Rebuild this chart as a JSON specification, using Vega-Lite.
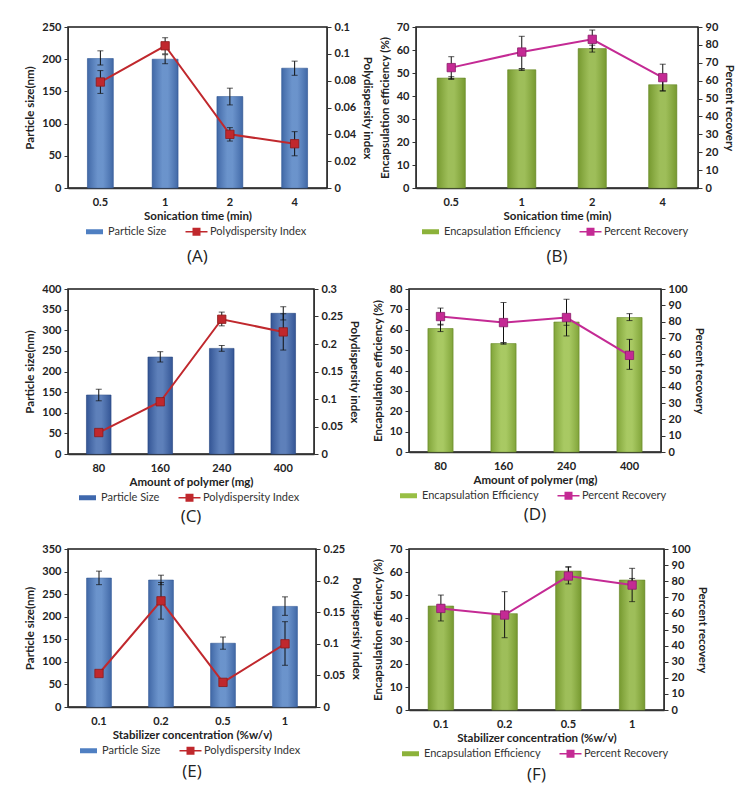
{
  "$schema": "https://vega.github.io/schema/vega-lite/v6.json",
  "background": "white",
  "padding": {"left": 24, "top": 20, "right": 5, "bottom": 5},
  "spacing": 16,
  "resolve": {"scale": {"color": "independent"}, "legend": {"color": "independent"}},
  "vconcat": [
    {
      "spacing": 4,
      "resolve": {"scale": {"color": "independent"}, "legend": {"color": "independent"}},
      "hconcat": [
        {
          "width": 259, "height": 161,
          "title": {"text": "(A)", "orient": "bottom", "offset": 12},
          "data": {"values": [
            {"x": "0.5", "bar": 201, "barLo": 191, "barHi": 213, "line": 0.079, "lineLo": 0.0705, "lineHi": 0.0875},
            {"x": "1", "bar": 200, "barLo": 193, "barHi": 207, "line": 0.106, "lineLo": 0.100, "lineHi": 0.112},
            {"x": "2", "bar": 142, "barLo": 129, "barHi": 155, "line": 0.040, "lineLo": 0.035, "lineHi": 0.045},
            {"x": "4", "bar": 186, "barLo": 175, "barHi": 197, "line": 0.033, "lineLo": 0.024, "lineHi": 0.042}
          ]},
          "encoding": {"x": {"field": "x", "type": "ordinal", "sort": null, "title": "Sonication time (min)", "scale": {"paddingInner": 0, "paddingOuter": 0}, "axis": {"labelAngle": 0}}},
          "layer": [
            {"layer": [
              {"mark": {"type": "bar", "width": {"band": 0.4}, "stroke": "#35609e", "strokeWidth": 0.6},
               "encoding": {"y": {"field": "bar", "type": "quantitative", "title": "Particle size(nm)", "scale": {"domain": [0, 250], "nice": false}, "axis": {"values": [0, 50, 100, 150, 200, 250], "labelOverlap": false}},
                "color": {"datum": "Particle Size", "scale": {"domain": ["Particle Size", "Polydispersity Index"], "range": ["#4f7fc2", "#c0282d"]},
                  "legend": {"title": null, "encode": {"symbols": {"update": {"shape": {"signal": "datum.value === 'Particle Size' ? 'M-1.7,-0.5H1.7V0.5H-1.7Z' : 'M-2.2,-0.15H2.2V0.15H-2.2Z M-0.8,-0.8H0.8V0.8H-0.8Z'"}}}}}}}},
              {"mark": {"type": "bar", "width": {"band": 0.4}, "color": {"gradient": "linear", "x1": 0, "x2": 1, "y1": 0, "y2": 0, "stops": [{"offset": 0, "color": "rgba(0,0,40,0.18)"}, {"offset": 0.4, "color": "rgba(255,255,255,0.16)"}, {"offset": 0.6, "color": "rgba(255,255,255,0.16)"}, {"offset": 1, "color": "rgba(0,0,40,0.18)"}]}},
               "encoding": {"y": {"field": "bar", "type": "quantitative", "title": "Particle size(nm)", "scale": {"domain": [0, 250], "nice": false}, "axis": {"values": [0, 50, 100, 150, 200, 250], "labelOverlap": false}}}},
              {"mark": {"type": "rule", "color": "#111", "strokeWidth": 1}, "encoding": {"y": {"field": "barLo", "type": "quantitative", "title": "Particle size(nm)", "scale": {"domain": [0, 250], "nice": false}, "axis": {"values": [0, 50, 100, 150, 200, 250], "labelOverlap": false}}, "y2": {"field": "barHi"}}},
              {"mark": {"type": "tick", "color": "#111", "size": 6, "thickness": 1}, "encoding": {"y": {"field": "barLo", "type": "quantitative", "title": "Particle size(nm)", "scale": {"domain": [0, 250], "nice": false}, "axis": {"values": [0, 50, 100, 150, 200, 250], "labelOverlap": false}}}},
              {"mark": {"type": "tick", "color": "#111", "size": 6, "thickness": 1}, "encoding": {"y": {"field": "barHi", "type": "quantitative", "title": "Particle size(nm)", "scale": {"domain": [0, 250], "nice": false}, "axis": {"values": [0, 50, 100, 150, 200, 250], "labelOverlap": false}}}}
            ]},
            {"layer": [
              {"mark": {"type": "line", "strokeWidth": 2},
               "encoding": {"y": {"field": "line", "type": "quantitative", "title": "Polydispersity index", "scale": {"domain": [0, 0.12], "nice": false}, "axis": {"orient": "right", "values": [0, 0.02, 0.04, 0.06, 0.08, 0.1, 0.12], "format": "~g", "labelOverlap": false}},
                "color": {"datum": "Polydispersity Index", "legend": {"title": null, "encode": {"symbols": {"update": {"shape": {"signal": "datum.value === 'Particle Size' ? 'M-1.7,-0.5H1.7V0.5H-1.7Z' : 'M-2.2,-0.15H2.2V0.15H-2.2Z M-0.8,-0.8H0.8V0.8H-0.8Z'"}}}}}}}},
              {"mark": {"type": "rule", "color": "#111", "strokeWidth": 1}, "encoding": {"y": {"field": "lineLo", "type": "quantitative", "title": "Polydispersity index", "scale": {"domain": [0, 0.12], "nice": false}, "axis": {"orient": "right", "values": [0, 0.02, 0.04, 0.06, 0.08, 0.1, 0.12], "format": "~g", "labelOverlap": false}}, "y2": {"field": "lineHi"}}},
              {"mark": {"type": "tick", "color": "#111", "size": 6, "thickness": 1}, "encoding": {"y": {"field": "lineLo", "type": "quantitative", "title": "Polydispersity index", "scale": {"domain": [0, 0.12], "nice": false}, "axis": {"orient": "right", "values": [0, 0.02, 0.04, 0.06, 0.08, 0.1, 0.12], "format": "~g", "labelOverlap": false}}}},
              {"mark": {"type": "tick", "color": "#111", "size": 6, "thickness": 1}, "encoding": {"y": {"field": "lineHi", "type": "quantitative", "title": "Polydispersity index", "scale": {"domain": [0, 0.12], "nice": false}, "axis": {"orient": "right", "values": [0, 0.02, 0.04, 0.06, 0.08, 0.1, 0.12], "format": "~g", "labelOverlap": false}}}},
              {"mark": {"type": "point", "shape": "square", "filled": true, "size": 70, "opacity": 1, "stroke": "#8a1a1a", "strokeWidth": 0.8},
               "encoding": {"y": {"field": "line", "type": "quantitative", "title": "Polydispersity index", "scale": {"domain": [0, 0.12], "nice": false}, "axis": {"orient": "right", "values": [0, 0.02, 0.04, 0.06, 0.08, 0.1, 0.12], "format": "~g", "labelOverlap": false}},
                "color": {"datum": "Polydispersity Index", "legend": {"title": null, "encode": {"symbols": {"update": {"shape": {"signal": "datum.value === 'Particle Size' ? 'M-1.7,-0.5H1.7V0.5H-1.7Z' : 'M-2.2,-0.15H2.2V0.15H-2.2Z M-0.8,-0.8H0.8V0.8H-0.8Z'"}}}}}}}}
            ]}
          ],
          "resolve": {"scale": {"y": "independent"}}
        },
        {
          "width": 282, "height": 161,
          "title": {"text": "(B)", "orient": "bottom", "offset": 12},
          "data": {"values": [
            {"x": "0.5", "bar": 47.8, "barLo": 47.2, "barHi": 48.4, "line": 67.3, "lineLo": 61.2, "lineHi": 73.4},
            {"x": "1", "bar": 51.4, "barLo": 51.1, "barHi": 51.7, "line": 76.0, "lineLo": 66.8, "lineHi": 84.8},
            {"x": "2", "bar": 60.6, "barLo": 59.1, "barHi": 62.1, "line": 83.1, "lineLo": 77.9, "lineHi": 88.3},
            {"x": "4", "bar": 44.9, "barLo": 42.2, "barHi": 47.4, "line": 61.7, "lineLo": 54.3, "lineHi": 69.2}
          ]},
          "encoding": {"x": {"field": "x", "type": "ordinal", "sort": null, "title": "Sonication time (min)", "scale": {"paddingInner": 0, "paddingOuter": 0}, "axis": {"labelAngle": 0}}},
          "layer": [
            {"layer": [
              {"mark": {"type": "bar", "width": {"band": 0.4}, "stroke": "#6d8f2a", "strokeWidth": 0.6},
               "encoding": {"y": {"field": "bar", "type": "quantitative", "title": "Encapsulation efficiency (%)", "scale": {"domain": [0, 70], "nice": false}, "axis": {"values": [0, 10, 20, 30, 40, 50, 60, 70], "labelOverlap": false}},
                "color": {"datum": "Encapsulation Efficiency", "scale": {"domain": ["Encapsulation Efficiency", "Percent Recovery"], "range": ["#8cb23a", "#c42a94"]},
                  "legend": {"title": null, "encode": {"symbols": {"update": {"shape": {"signal": "datum.value === 'Encapsulation Efficiency' ? 'M-1.7,-0.5H1.7V0.5H-1.7Z' : 'M-2.2,-0.15H2.2V0.15H-2.2Z M-0.8,-0.8H0.8V0.8H-0.8Z'"}}}}}}}},
              {"mark": {"type": "bar", "width": {"band": 0.4}, "color": {"gradient": "linear", "x1": 0, "x2": 1, "y1": 0, "y2": 0, "stops": [{"offset": 0, "color": "rgba(20,40,0,0.18)"}, {"offset": 0.4, "color": "rgba(255,255,255,0.16)"}, {"offset": 0.6, "color": "rgba(255,255,255,0.16)"}, {"offset": 1, "color": "rgba(20,40,0,0.18)"}]}},
               "encoding": {"y": {"field": "bar", "type": "quantitative", "title": "Encapsulation efficiency (%)", "scale": {"domain": [0, 70], "nice": false}, "axis": {"values": [0, 10, 20, 30, 40, 50, 60, 70], "labelOverlap": false}}}},
              {"mark": {"type": "rule", "color": "#111", "strokeWidth": 1}, "encoding": {"y": {"field": "barLo", "type": "quantitative", "title": "Encapsulation efficiency (%)", "scale": {"domain": [0, 70], "nice": false}, "axis": {"values": [0, 10, 20, 30, 40, 50, 60, 70], "labelOverlap": false}}, "y2": {"field": "barHi"}}},
              {"mark": {"type": "tick", "color": "#111", "size": 6, "thickness": 1}, "encoding": {"y": {"field": "barLo", "type": "quantitative", "title": "Encapsulation efficiency (%)", "scale": {"domain": [0, 70], "nice": false}, "axis": {"values": [0, 10, 20, 30, 40, 50, 60, 70], "labelOverlap": false}}}},
              {"mark": {"type": "tick", "color": "#111", "size": 6, "thickness": 1}, "encoding": {"y": {"field": "barHi", "type": "quantitative", "title": "Encapsulation efficiency (%)", "scale": {"domain": [0, 70], "nice": false}, "axis": {"values": [0, 10, 20, 30, 40, 50, 60, 70], "labelOverlap": false}}}}
            ]},
            {"layer": [
              {"mark": {"type": "line", "strokeWidth": 2},
               "encoding": {"y": {"field": "line", "type": "quantitative", "title": "Percent recovery", "scale": {"domain": [0, 90], "nice": false}, "axis": {"orient": "right", "values": [0, 10, 20, 30, 40, 50, 60, 70, 80, 90], "labelOverlap": false}},
                "color": {"datum": "Percent Recovery", "legend": {"title": null, "encode": {"symbols": {"update": {"shape": {"signal": "datum.value === 'Encapsulation Efficiency' ? 'M-1.7,-0.5H1.7V0.5H-1.7Z' : 'M-2.2,-0.15H2.2V0.15H-2.2Z M-0.8,-0.8H0.8V0.8H-0.8Z'"}}}}}}}},
              {"mark": {"type": "rule", "color": "#111", "strokeWidth": 1}, "encoding": {"y": {"field": "lineLo", "type": "quantitative", "title": "Percent recovery", "scale": {"domain": [0, 90], "nice": false}, "axis": {"orient": "right", "values": [0, 10, 20, 30, 40, 50, 60, 70, 80, 90], "labelOverlap": false}}, "y2": {"field": "lineHi"}}},
              {"mark": {"type": "tick", "color": "#111", "size": 6, "thickness": 1}, "encoding": {"y": {"field": "lineLo", "type": "quantitative", "title": "Percent recovery", "scale": {"domain": [0, 90], "nice": false}, "axis": {"orient": "right", "values": [0, 10, 20, 30, 40, 50, 60, 70, 80, 90], "labelOverlap": false}}}},
              {"mark": {"type": "tick", "color": "#111", "size": 6, "thickness": 1}, "encoding": {"y": {"field": "lineHi", "type": "quantitative", "title": "Percent recovery", "scale": {"domain": [0, 90], "nice": false}, "axis": {"orient": "right", "values": [0, 10, 20, 30, 40, 50, 60, 70, 80, 90], "labelOverlap": false}}}},
              {"mark": {"type": "point", "shape": "square", "filled": true, "size": 70, "opacity": 1, "stroke": "#8a1d6a", "strokeWidth": 0.8},
               "encoding": {"y": {"field": "line", "type": "quantitative", "title": "Percent recovery", "scale": {"domain": [0, 90], "nice": false}, "axis": {"orient": "right", "values": [0, 10, 20, 30, 40, 50, 60, 70, 80, 90], "labelOverlap": false}},
                "color": {"datum": "Percent Recovery", "legend": {"title": null, "encode": {"symbols": {"update": {"shape": {"signal": "datum.value === 'Encapsulation Efficiency' ? 'M-1.7,-0.5H1.7V0.5H-1.7Z' : 'M-2.2,-0.15H2.2V0.15H-2.2Z M-0.8,-0.8H0.8V0.8H-0.8Z'"}}}}}}}}
            ]}
          ],
          "resolve": {"scale": {"y": "independent"}}
        }
      ]
    },
    {
      "spacing": 10,
      "resolve": {"scale": {"color": "independent"}, "legend": {"color": "independent"}},
      "hconcat": [
        {
          "width": 246, "height": 165,
          "title": {"text": "(C)", "orient": "bottom", "offset": 6},
          "data": {"values": [
            {"x": "80", "bar": 143, "barLo": 129, "barHi": 157, "line": 0.039, "lineLo": 0.036, "lineHi": 0.042},
            {"x": "160", "bar": 235, "barLo": 223, "barHi": 248, "line": 0.095, "lineLo": 0.092, "lineHi": 0.098},
            {"x": "240", "bar": 256, "barLo": 249, "barHi": 263, "line": 0.245, "lineLo": 0.233, "lineHi": 0.258},
            {"x": "400", "bar": 341, "barLo": 325, "barHi": 357, "line": 0.222, "lineLo": 0.189, "lineHi": 0.255}
          ]},
          "encoding": {"x": {"field": "x", "type": "ordinal", "sort": null, "title": "Amount of polymer (mg)", "scale": {"paddingInner": 0, "paddingOuter": 0}, "axis": {"labelAngle": 0}}},
          "layer": [
            {"layer": [
              {"mark": {"type": "bar", "width": {"band": 0.4}, "stroke": "#2d4f8a", "strokeWidth": 0.6},
               "encoding": {"y": {"field": "bar", "type": "quantitative", "title": "Particle size(nm)", "scale": {"domain": [0, 400], "nice": false}, "axis": {"values": [0, 50, 100, 150, 200, 250, 300, 350, 400], "labelOverlap": false}},
                "color": {"datum": "Particle Size", "scale": {"domain": ["Particle Size", "Polydispersity Index"], "range": ["#3f68ad", "#c0282d"]},
                  "legend": {"title": null, "encode": {"symbols": {"update": {"shape": {"signal": "datum.value === 'Particle Size' ? 'M-1.7,-0.5H1.7V0.5H-1.7Z' : 'M-2.2,-0.15H2.2V0.15H-2.2Z M-0.8,-0.8H0.8V0.8H-0.8Z'"}}}}}}}},
              {"mark": {"type": "bar", "width": {"band": 0.4}, "color": {"gradient": "linear", "x1": 0, "x2": 1, "y1": 0, "y2": 0, "stops": [{"offset": 0, "color": "rgba(0,0,40,0.18)"}, {"offset": 0.4, "color": "rgba(255,255,255,0.16)"}, {"offset": 0.6, "color": "rgba(255,255,255,0.16)"}, {"offset": 1, "color": "rgba(0,0,40,0.18)"}]}},
               "encoding": {"y": {"field": "bar", "type": "quantitative", "title": "Particle size(nm)", "scale": {"domain": [0, 400], "nice": false}, "axis": {"values": [0, 50, 100, 150, 200, 250, 300, 350, 400], "labelOverlap": false}}}},
              {"mark": {"type": "rule", "color": "#111", "strokeWidth": 1}, "encoding": {"y": {"field": "barLo", "type": "quantitative", "title": "Particle size(nm)", "scale": {"domain": [0, 400], "nice": false}, "axis": {"values": [0, 50, 100, 150, 200, 250, 300, 350, 400], "labelOverlap": false}}, "y2": {"field": "barHi"}}},
              {"mark": {"type": "tick", "color": "#111", "size": 6, "thickness": 1}, "encoding": {"y": {"field": "barLo", "type": "quantitative", "title": "Particle size(nm)", "scale": {"domain": [0, 400], "nice": false}, "axis": {"values": [0, 50, 100, 150, 200, 250, 300, 350, 400], "labelOverlap": false}}}},
              {"mark": {"type": "tick", "color": "#111", "size": 6, "thickness": 1}, "encoding": {"y": {"field": "barHi", "type": "quantitative", "title": "Particle size(nm)", "scale": {"domain": [0, 400], "nice": false}, "axis": {"values": [0, 50, 100, 150, 200, 250, 300, 350, 400], "labelOverlap": false}}}}
            ]},
            {"layer": [
              {"mark": {"type": "line", "strokeWidth": 2},
               "encoding": {"y": {"field": "line", "type": "quantitative", "title": "Polydispersity index", "scale": {"domain": [0, 0.3], "nice": false}, "axis": {"orient": "right", "values": [0, 0.05, 0.1, 0.15, 0.2, 0.25, 0.3], "format": "~g", "labelOverlap": false}},
                "color": {"datum": "Polydispersity Index", "legend": {"title": null, "encode": {"symbols": {"update": {"shape": {"signal": "datum.value === 'Particle Size' ? 'M-1.7,-0.5H1.7V0.5H-1.7Z' : 'M-2.2,-0.15H2.2V0.15H-2.2Z M-0.8,-0.8H0.8V0.8H-0.8Z'"}}}}}}}},
              {"mark": {"type": "rule", "color": "#111", "strokeWidth": 1}, "encoding": {"y": {"field": "lineLo", "type": "quantitative", "title": "Polydispersity index", "scale": {"domain": [0, 0.3], "nice": false}, "axis": {"orient": "right", "values": [0, 0.05, 0.1, 0.15, 0.2, 0.25, 0.3], "format": "~g", "labelOverlap": false}}, "y2": {"field": "lineHi"}}},
              {"mark": {"type": "tick", "color": "#111", "size": 6, "thickness": 1}, "encoding": {"y": {"field": "lineLo", "type": "quantitative", "title": "Polydispersity index", "scale": {"domain": [0, 0.3], "nice": false}, "axis": {"orient": "right", "values": [0, 0.05, 0.1, 0.15, 0.2, 0.25, 0.3], "format": "~g", "labelOverlap": false}}}},
              {"mark": {"type": "tick", "color": "#111", "size": 6, "thickness": 1}, "encoding": {"y": {"field": "lineHi", "type": "quantitative", "title": "Polydispersity index", "scale": {"domain": [0, 0.3], "nice": false}, "axis": {"orient": "right", "values": [0, 0.05, 0.1, 0.15, 0.2, 0.25, 0.3], "format": "~g", "labelOverlap": false}}}},
              {"mark": {"type": "point", "shape": "square", "filled": true, "size": 70, "opacity": 1, "stroke": "#8a1a1a", "strokeWidth": 0.8},
               "encoding": {"y": {"field": "line", "type": "quantitative", "title": "Polydispersity index", "scale": {"domain": [0, 0.3], "nice": false}, "axis": {"orient": "right", "values": [0, 0.05, 0.1, 0.15, 0.2, 0.25, 0.3], "format": "~g", "labelOverlap": false}},
                "color": {"datum": "Polydispersity Index", "legend": {"title": null, "encode": {"symbols": {"update": {"shape": {"signal": "datum.value === 'Particle Size' ? 'M-1.7,-0.5H1.7V0.5H-1.7Z' : 'M-2.2,-0.15H2.2V0.15H-2.2Z M-0.8,-0.8H0.8V0.8H-0.8Z'"}}}}}}}}
            ]}
          ],
          "resolve": {"scale": {"y": "independent"}}
        },
        {
          "width": 252, "height": 163,
          "title": {"text": "(D)", "orient": "bottom", "offset": 6},
          "data": {"values": [
            {"x": "80", "bar": 60.6, "barLo": 59.1, "barHi": 62.7, "line": 83.1, "lineLo": 77.9, "lineHi": 88.3},
            {"x": "160", "bar": 53.2, "barLo": 52.9, "barHi": 53.5, "line": 79.4, "lineLo": 67.1, "lineHi": 91.7},
            {"x": "240", "bar": 63.8, "barLo": 62.2, "barHi": 65.4, "line": 82.5, "lineLo": 71.2, "lineHi": 93.7},
            {"x": "400", "bar": 66.0, "barLo": 64.5, "barHi": 67.9, "line": 59.3, "lineLo": 50.7, "lineHi": 69.1}
          ]},
          "encoding": {"x": {"field": "x", "type": "ordinal", "sort": null, "title": "Amount of polymer (mg)", "scale": {"paddingInner": 0, "paddingOuter": 0}, "axis": {"labelAngle": 0}}},
          "layer": [
            {"layer": [
              {"mark": {"type": "bar", "width": {"band": 0.4}, "stroke": "#6d8f2a", "strokeWidth": 0.6},
               "encoding": {"y": {"field": "bar", "type": "quantitative", "title": "Encapsulation efficiency (%)", "scale": {"domain": [0, 80], "nice": false}, "axis": {"values": [0, 10, 20, 30, 40, 50, 60, 70, 80], "labelOverlap": false}},
                "color": {"datum": "Encapsulation Efficiency", "scale": {"domain": ["Encapsulation Efficiency", "Percent Recovery"], "range": ["#98bf45", "#c42a94"]},
                  "legend": {"title": null, "encode": {"symbols": {"update": {"shape": {"signal": "datum.value === 'Encapsulation Efficiency' ? 'M-1.7,-0.5H1.7V0.5H-1.7Z' : 'M-2.2,-0.15H2.2V0.15H-2.2Z M-0.8,-0.8H0.8V0.8H-0.8Z'"}}}}}}}},
              {"mark": {"type": "bar", "width": {"band": 0.4}, "color": {"gradient": "linear", "x1": 0, "x2": 1, "y1": 0, "y2": 0, "stops": [{"offset": 0, "color": "rgba(20,40,0,0.18)"}, {"offset": 0.4, "color": "rgba(255,255,255,0.16)"}, {"offset": 0.6, "color": "rgba(255,255,255,0.16)"}, {"offset": 1, "color": "rgba(20,40,0,0.18)"}]}},
               "encoding": {"y": {"field": "bar", "type": "quantitative", "title": "Encapsulation efficiency (%)", "scale": {"domain": [0, 80], "nice": false}, "axis": {"values": [0, 10, 20, 30, 40, 50, 60, 70, 80], "labelOverlap": false}}}},
              {"mark": {"type": "rule", "color": "#111", "strokeWidth": 1}, "encoding": {"y": {"field": "barLo", "type": "quantitative", "title": "Encapsulation efficiency (%)", "scale": {"domain": [0, 80], "nice": false}, "axis": {"values": [0, 10, 20, 30, 40, 50, 60, 70, 80], "labelOverlap": false}}, "y2": {"field": "barHi"}}},
              {"mark": {"type": "tick", "color": "#111", "size": 6, "thickness": 1}, "encoding": {"y": {"field": "barLo", "type": "quantitative", "title": "Encapsulation efficiency (%)", "scale": {"domain": [0, 80], "nice": false}, "axis": {"values": [0, 10, 20, 30, 40, 50, 60, 70, 80], "labelOverlap": false}}}},
              {"mark": {"type": "tick", "color": "#111", "size": 6, "thickness": 1}, "encoding": {"y": {"field": "barHi", "type": "quantitative", "title": "Encapsulation efficiency (%)", "scale": {"domain": [0, 80], "nice": false}, "axis": {"values": [0, 10, 20, 30, 40, 50, 60, 70, 80], "labelOverlap": false}}}}
            ]},
            {"layer": [
              {"mark": {"type": "line", "strokeWidth": 2},
               "encoding": {"y": {"field": "line", "type": "quantitative", "title": "Percent recovery", "scale": {"domain": [0, 100], "nice": false}, "axis": {"orient": "right", "values": [0, 10, 20, 30, 40, 50, 60, 70, 80, 90, 100], "labelOverlap": false}},
                "color": {"datum": "Percent Recovery", "legend": {"title": null, "encode": {"symbols": {"update": {"shape": {"signal": "datum.value === 'Encapsulation Efficiency' ? 'M-1.7,-0.5H1.7V0.5H-1.7Z' : 'M-2.2,-0.15H2.2V0.15H-2.2Z M-0.8,-0.8H0.8V0.8H-0.8Z'"}}}}}}}},
              {"mark": {"type": "rule", "color": "#111", "strokeWidth": 1}, "encoding": {"y": {"field": "lineLo", "type": "quantitative", "title": "Percent recovery", "scale": {"domain": [0, 100], "nice": false}, "axis": {"orient": "right", "values": [0, 10, 20, 30, 40, 50, 60, 70, 80, 90, 100], "labelOverlap": false}}, "y2": {"field": "lineHi"}}},
              {"mark": {"type": "tick", "color": "#111", "size": 6, "thickness": 1}, "encoding": {"y": {"field": "lineLo", "type": "quantitative", "title": "Percent recovery", "scale": {"domain": [0, 100], "nice": false}, "axis": {"orient": "right", "values": [0, 10, 20, 30, 40, 50, 60, 70, 80, 90, 100], "labelOverlap": false}}}},
              {"mark": {"type": "tick", "color": "#111", "size": 6, "thickness": 1}, "encoding": {"y": {"field": "lineHi", "type": "quantitative", "title": "Percent recovery", "scale": {"domain": [0, 100], "nice": false}, "axis": {"orient": "right", "values": [0, 10, 20, 30, 40, 50, 60, 70, 80, 90, 100], "labelOverlap": false}}}},
              {"mark": {"type": "point", "shape": "square", "filled": true, "size": 70, "opacity": 1, "stroke": "#8a1d6a", "strokeWidth": 0.8},
               "encoding": {"y": {"field": "line", "type": "quantitative", "title": "Percent recovery", "scale": {"domain": [0, 100], "nice": false}, "axis": {"orient": "right", "values": [0, 10, 20, 30, 40, 50, 60, 70, 80, 90, 100], "labelOverlap": false}},
                "color": {"datum": "Percent Recovery", "legend": {"title": null, "encode": {"symbols": {"update": {"shape": {"signal": "datum.value === 'Encapsulation Efficiency' ? 'M-1.7,-0.5H1.7V0.5H-1.7Z' : 'M-2.2,-0.15H2.2V0.15H-2.2Z M-0.8,-0.8H0.8V0.8H-0.8Z'"}}}}}}}}
            ]}
          ],
          "resolve": {"scale": {"y": "independent"}}
        }
      ]
    },
    {
      "spacing": 8,
      "resolve": {"scale": {"color": "independent"}, "legend": {"color": "independent"}},
      "hconcat": [
        {
          "width": 248, "height": 158,
          "title": {"text": "(E)", "orient": "bottom"},
          "data": {"values": [
            {"x": "0.1", "bar": 285.6, "barLo": 271, "barHi": 301, "line": 0.053, "lineLo": 0.050, "lineHi": 0.056},
            {"x": "0.2", "bar": 281.2, "barLo": 271, "barHi": 292, "line": 0.168, "lineLo": 0.139, "lineHi": 0.197},
            {"x": "0.5", "bar": 141.2, "barLo": 128, "barHi": 155, "line": 0.039, "lineLo": 0.037, "lineHi": 0.041},
            {"x": "1", "bar": 222.8, "barLo": 203, "barHi": 244, "line": 0.100, "lineLo": 0.066, "lineHi": 0.135}
          ]},
          "encoding": {"x": {"field": "x", "type": "ordinal", "sort": null, "title": "Stabilizer concentration (%w/v)", "scale": {"paddingInner": 0, "paddingOuter": 0}, "axis": {"labelAngle": 0}}},
          "layer": [
            {"layer": [
              {"mark": {"type": "bar", "width": {"band": 0.4}, "stroke": "#35609e", "strokeWidth": 0.6},
               "encoding": {"y": {"field": "bar", "type": "quantitative", "title": "Particle size(nm)", "scale": {"domain": [0, 350], "nice": false}, "axis": {"values": [0, 50, 100, 150, 200, 250, 300, 350], "labelOverlap": false}},
                "color": {"datum": "Particle Size", "scale": {"domain": ["Particle Size", "Polydispersity Index"], "range": ["#4f7fc2", "#c0282d"]},
                  "legend": {"title": null, "encode": {"symbols": {"update": {"shape": {"signal": "datum.value === 'Particle Size' ? 'M-1.7,-0.5H1.7V0.5H-1.7Z' : 'M-2.2,-0.15H2.2V0.15H-2.2Z M-0.8,-0.8H0.8V0.8H-0.8Z'"}}}}}}}},
              {"mark": {"type": "bar", "width": {"band": 0.4}, "color": {"gradient": "linear", "x1": 0, "x2": 1, "y1": 0, "y2": 0, "stops": [{"offset": 0, "color": "rgba(0,0,40,0.18)"}, {"offset": 0.4, "color": "rgba(255,255,255,0.16)"}, {"offset": 0.6, "color": "rgba(255,255,255,0.16)"}, {"offset": 1, "color": "rgba(0,0,40,0.18)"}]}},
               "encoding": {"y": {"field": "bar", "type": "quantitative", "title": "Particle size(nm)", "scale": {"domain": [0, 350], "nice": false}, "axis": {"values": [0, 50, 100, 150, 200, 250, 300, 350], "labelOverlap": false}}}},
              {"mark": {"type": "rule", "color": "#111", "strokeWidth": 1}, "encoding": {"y": {"field": "barLo", "type": "quantitative", "title": "Particle size(nm)", "scale": {"domain": [0, 350], "nice": false}, "axis": {"values": [0, 50, 100, 150, 200, 250, 300, 350], "labelOverlap": false}}, "y2": {"field": "barHi"}}},
              {"mark": {"type": "tick", "color": "#111", "size": 6, "thickness": 1}, "encoding": {"y": {"field": "barLo", "type": "quantitative", "title": "Particle size(nm)", "scale": {"domain": [0, 350], "nice": false}, "axis": {"values": [0, 50, 100, 150, 200, 250, 300, 350], "labelOverlap": false}}}},
              {"mark": {"type": "tick", "color": "#111", "size": 6, "thickness": 1}, "encoding": {"y": {"field": "barHi", "type": "quantitative", "title": "Particle size(nm)", "scale": {"domain": [0, 350], "nice": false}, "axis": {"values": [0, 50, 100, 150, 200, 250, 300, 350], "labelOverlap": false}}}}
            ]},
            {"layer": [
              {"mark": {"type": "line", "strokeWidth": 2},
               "encoding": {"y": {"field": "line", "type": "quantitative", "title": "Polydispersity index", "scale": {"domain": [0, 0.25], "nice": false}, "axis": {"orient": "right", "values": [0, 0.05, 0.1, 0.15, 0.2, 0.25], "format": "~g", "labelOverlap": false}},
                "color": {"datum": "Polydispersity Index", "legend": {"title": null, "encode": {"symbols": {"update": {"shape": {"signal": "datum.value === 'Particle Size' ? 'M-1.7,-0.5H1.7V0.5H-1.7Z' : 'M-2.2,-0.15H2.2V0.15H-2.2Z M-0.8,-0.8H0.8V0.8H-0.8Z'"}}}}}}}},
              {"mark": {"type": "rule", "color": "#111", "strokeWidth": 1}, "encoding": {"y": {"field": "lineLo", "type": "quantitative", "title": "Polydispersity index", "scale": {"domain": [0, 0.25], "nice": false}, "axis": {"orient": "right", "values": [0, 0.05, 0.1, 0.15, 0.2, 0.25], "format": "~g", "labelOverlap": false}}, "y2": {"field": "lineHi"}}},
              {"mark": {"type": "tick", "color": "#111", "size": 6, "thickness": 1}, "encoding": {"y": {"field": "lineLo", "type": "quantitative", "title": "Polydispersity index", "scale": {"domain": [0, 0.25], "nice": false}, "axis": {"orient": "right", "values": [0, 0.05, 0.1, 0.15, 0.2, 0.25], "format": "~g", "labelOverlap": false}}}},
              {"mark": {"type": "tick", "color": "#111", "size": 6, "thickness": 1}, "encoding": {"y": {"field": "lineHi", "type": "quantitative", "title": "Polydispersity index", "scale": {"domain": [0, 0.25], "nice": false}, "axis": {"orient": "right", "values": [0, 0.05, 0.1, 0.15, 0.2, 0.25], "format": "~g", "labelOverlap": false}}}},
              {"mark": {"type": "point", "shape": "square", "filled": true, "size": 70, "opacity": 1, "stroke": "#8a1a1a", "strokeWidth": 0.8},
               "encoding": {"y": {"field": "line", "type": "quantitative", "title": "Polydispersity index", "scale": {"domain": [0, 0.25], "nice": false}, "axis": {"orient": "right", "values": [0, 0.05, 0.1, 0.15, 0.2, 0.25], "format": "~g", "labelOverlap": false}},
                "color": {"datum": "Polydispersity Index", "legend": {"title": null, "encode": {"symbols": {"update": {"shape": {"signal": "datum.value === 'Particle Size' ? 'M-1.7,-0.5H1.7V0.5H-1.7Z' : 'M-2.2,-0.15H2.2V0.15H-2.2Z M-0.8,-0.8H0.8V0.8H-0.8Z'"}}}}}}}}
            ]}
          ],
          "resolve": {"scale": {"y": "independent"}}
        },
        {
          "width": 255, "height": 161,
          "title": {"text": "(F)", "orient": "bottom"},
          "data": {"values": [
            {"x": "0.1", "bar": 45.2, "barLo": 44.7, "barHi": 45.7, "line": 63.1, "lineLo": 55.3, "lineHi": 71.4},
            {"x": "0.2", "bar": 41.9, "barLo": 41.5, "barHi": 42.3, "line": 59.0, "lineLo": 44.9, "lineHi": 73.5},
            {"x": "0.5", "bar": 60.4, "barLo": 58.7, "barHi": 62.1, "line": 83.2, "lineLo": 78.3, "lineHi": 89.0},
            {"x": "1", "bar": 56.5, "barLo": 55.8, "barHi": 57.2, "line": 77.6, "lineLo": 67.3, "lineHi": 88.0}
          ]},
          "encoding": {"x": {"field": "x", "type": "ordinal", "sort": null, "title": "Stabilizer concentration (%w/v)", "scale": {"paddingInner": 0, "paddingOuter": 0}, "axis": {"labelAngle": 0}}},
          "layer": [
            {"layer": [
              {"mark": {"type": "bar", "width": {"band": 0.4}, "stroke": "#6d8f2a", "strokeWidth": 0.6},
               "encoding": {"y": {"field": "bar", "type": "quantitative", "title": "Encapsulation efficiency (%)", "scale": {"domain": [0, 70], "nice": false}, "axis": {"values": [0, 10, 20, 30, 40, 50, 60, 70], "labelOverlap": false}},
                "color": {"datum": "Encapsulation Efficiency", "scale": {"domain": ["Encapsulation Efficiency", "Percent Recovery"], "range": ["#8cb23a", "#c42a94"]},
                  "legend": {"title": null, "encode": {"symbols": {"update": {"shape": {"signal": "datum.value === 'Encapsulation Efficiency' ? 'M-1.7,-0.5H1.7V0.5H-1.7Z' : 'M-2.2,-0.15H2.2V0.15H-2.2Z M-0.8,-0.8H0.8V0.8H-0.8Z'"}}}}}}}},
              {"mark": {"type": "bar", "width": {"band": 0.4}, "color": {"gradient": "linear", "x1": 0, "x2": 1, "y1": 0, "y2": 0, "stops": [{"offset": 0, "color": "rgba(20,40,0,0.18)"}, {"offset": 0.4, "color": "rgba(255,255,255,0.16)"}, {"offset": 0.6, "color": "rgba(255,255,255,0.16)"}, {"offset": 1, "color": "rgba(20,40,0,0.18)"}]}},
               "encoding": {"y": {"field": "bar", "type": "quantitative", "title": "Encapsulation efficiency (%)", "scale": {"domain": [0, 70], "nice": false}, "axis": {"values": [0, 10, 20, 30, 40, 50, 60, 70], "labelOverlap": false}}}},
              {"mark": {"type": "rule", "color": "#111", "strokeWidth": 1}, "encoding": {"y": {"field": "barLo", "type": "quantitative", "title": "Encapsulation efficiency (%)", "scale": {"domain": [0, 70], "nice": false}, "axis": {"values": [0, 10, 20, 30, 40, 50, 60, 70], "labelOverlap": false}}, "y2": {"field": "barHi"}}},
              {"mark": {"type": "tick", "color": "#111", "size": 6, "thickness": 1}, "encoding": {"y": {"field": "barLo", "type": "quantitative", "title": "Encapsulation efficiency (%)", "scale": {"domain": [0, 70], "nice": false}, "axis": {"values": [0, 10, 20, 30, 40, 50, 60, 70], "labelOverlap": false}}}},
              {"mark": {"type": "tick", "color": "#111", "size": 6, "thickness": 1}, "encoding": {"y": {"field": "barHi", "type": "quantitative", "title": "Encapsulation efficiency (%)", "scale": {"domain": [0, 70], "nice": false}, "axis": {"values": [0, 10, 20, 30, 40, 50, 60, 70], "labelOverlap": false}}}}
            ]},
            {"layer": [
              {"mark": {"type": "line", "strokeWidth": 2},
               "encoding": {"y": {"field": "line", "type": "quantitative", "title": "Percent recovery", "scale": {"domain": [0, 100], "nice": false}, "axis": {"orient": "right", "values": [0, 10, 20, 30, 40, 50, 60, 70, 80, 90, 100], "labelOverlap": false}},
                "color": {"datum": "Percent Recovery", "legend": {"title": null, "encode": {"symbols": {"update": {"shape": {"signal": "datum.value === 'Encapsulation Efficiency' ? 'M-1.7,-0.5H1.7V0.5H-1.7Z' : 'M-2.2,-0.15H2.2V0.15H-2.2Z M-0.8,-0.8H0.8V0.8H-0.8Z'"}}}}}}}},
              {"mark": {"type": "rule", "color": "#111", "strokeWidth": 1}, "encoding": {"y": {"field": "lineLo", "type": "quantitative", "title": "Percent recovery", "scale": {"domain": [0, 100], "nice": false}, "axis": {"orient": "right", "values": [0, 10, 20, 30, 40, 50, 60, 70, 80, 90, 100], "labelOverlap": false}}, "y2": {"field": "lineHi"}}},
              {"mark": {"type": "tick", "color": "#111", "size": 6, "thickness": 1}, "encoding": {"y": {"field": "lineLo", "type": "quantitative", "title": "Percent recovery", "scale": {"domain": [0, 100], "nice": false}, "axis": {"orient": "right", "values": [0, 10, 20, 30, 40, 50, 60, 70, 80, 90, 100], "labelOverlap": false}}}},
              {"mark": {"type": "tick", "color": "#111", "size": 6, "thickness": 1}, "encoding": {"y": {"field": "lineHi", "type": "quantitative", "title": "Percent recovery", "scale": {"domain": [0, 100], "nice": false}, "axis": {"orient": "right", "values": [0, 10, 20, 30, 40, 50, 60, 70, 80, 90, 100], "labelOverlap": false}}}},
              {"mark": {"type": "point", "shape": "square", "filled": true, "size": 70, "opacity": 1, "stroke": "#8a1d6a", "strokeWidth": 0.8},
               "encoding": {"y": {"field": "line", "type": "quantitative", "title": "Percent recovery", "scale": {"domain": [0, 100], "nice": false}, "axis": {"orient": "right", "values": [0, 10, 20, 30, 40, 50, 60, 70, 80, 90, 100], "labelOverlap": false}},
                "color": {"datum": "Percent Recovery", "legend": {"title": null, "encode": {"symbols": {"update": {"shape": {"signal": "datum.value === 'Encapsulation Efficiency' ? 'M-1.7,-0.5H1.7V0.5H-1.7Z' : 'M-2.2,-0.15H2.2V0.15H-2.2Z M-0.8,-0.8H0.8V0.8H-0.8Z'"}}}}}}}}
            ]}
          ],
          "resolve": {"scale": {"y": "independent"}}
        }
      ]
    }
  ],
  "config": {
    "view": {"stroke": "#1a1a1a", "strokeWidth": 1.5},
    "font": "Lato",
    "axis": {"grid": false, "labelOverlap": false, "labelFont": "Lato", "labelFontWeight": "bold", "labelFontSize": 11, "labelColor": "#222", "titleFont": "Lato", "titleFontWeight": "bold", "titleFontSize": 11.5, "titleColor": "#222", "domainColor": "#333", "tickColor": "#333", "tickSize": 4, "labelPadding": 3, "titlePadding": 6},
    "axisX": {"domainWidth": 1.5, "ticks": false, "labelPadding": 8, "titlePadding": 3},
    "legend": {"orient": "bottom", "direction": "horizontal", "symbolSize": 100, "symbolStrokeWidth": 0, "labelFont": "Lato", "labelFontSize": 11, "labelColor": "#333", "labelOffset": 8, "offset": 4, "columnPadding": 18, "padding": 0, "layout": {"bottom": {"anchor": "middle"}}},
    "title": {"font": "Open Sans", "fontSize": 17, "fontWeight": "normal", "color": "#222", "offset": 8}
  }
}
